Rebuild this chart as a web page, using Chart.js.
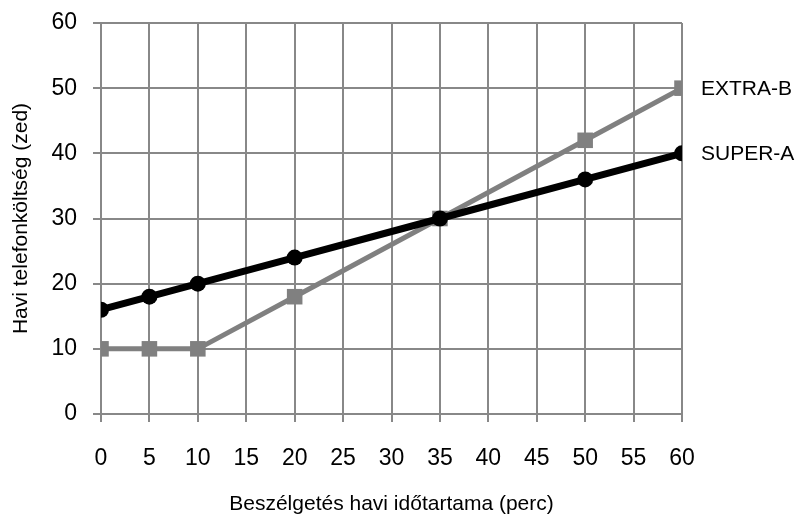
<!DOCTYPE html>
<html>
<head>
<meta charset="utf-8">
<script src="https://cdn.jsdelivr.net/npm/chart.js@4"></script>
<style>
  html, body { margin: 0; padding: 0; background: #fff; }
  #wrap { width: 798px; height: 519px; }
</style>
</head>
<body>
<div id="wrap"><canvas id="chart" width="798" height="519"></canvas></div>
<script>
// percek (x) és havi költség (y)
const minutes = [0, 5, 10, 20, 35, 50, 60];
const superA = [16, 18, 20, 24, 30, 36, 40];
const extraB = [10, 10, 10, 18, 30, 42, 50];
const seriesNames = ['SUPER-A', 'EXTRA-B'];
const xTitle = 'Beszélgetés havi időtartama (perc)';
const yTitle = 'Havi telefonköltség (zed)';

const FONT = "'Liberation Sans', Arial, sans-serif";

function toPoints(vals) {
  return minutes.map(function(m, i){ return {x: m, y: vals[i]}; });
}

// sorozat nevek a vonalak végén
const endLabels = {
  id: 'endLabels',
  afterDatasetsDraw(chart) {
    const ctx = chart.ctx;
    ctx.save();
    ctx.font = '21px ' + FONT;
    ctx.fillStyle = '#000';
    ctx.textBaseline = 'middle';
    chart.data.datasets.forEach(function(ds, i){
      const meta = chart.getDatasetMeta(i);
      const last = meta.data[meta.data.length - 1];
      ctx.fillText(ds.label, last.x + 19, last.y + 1);
    });
    ctx.restore();
  }
};

new Chart(document.getElementById('chart'), {
  type: 'line',
  data: {
    datasets: [
      {
        label: seriesNames[1],
        data: toPoints(extraB),
        borderColor: '#808080',
        backgroundColor: '#808080',
        borderWidth: 5,
        pointStyle: 'rect',
        pointRadius: 11,
        pointBorderWidth: 0,
        order: 1
      },
      {
        label: seriesNames[0],
        data: toPoints(superA),
        borderColor: '#000',
        backgroundColor: '#000',
        borderWidth: 7,
        pointStyle: 'circle',
        pointRadius: 8,
        pointBorderWidth: 0,
        order: 0
      }
    ]
  },
  options: {
    responsive: false,
    animation: false,
    layout: { padding: { top: 23, right: 116, left: 0, bottom: 2 } },
    plugins: {
      legend: { display: false },
      tooltip: { enabled: false }
    },
    scales: {
      x: {
        type: 'linear',
        min: 0, max: 60,
        ticks: { stepSize: 5, color: '#000', padding: 23, font: { family: FONT, size: 23 } },
        grid: { color: '#888', lineWidth: 2, tickLength: 8 },
        border: { color: '#888', width: 2 },
        title: { display: true, text: xTitle, color: '#000', padding: { top: 4, bottom: 0 }, font: { family: FONT, size: 21 } },
        afterFit: function(scale) {
          scale.height = 519 - 2 - 414;
          scale.paddingLeft = 0;
          scale.paddingRight = 0;
        }
      },
      y: {
        min: 0, max: 60,
        ticks: { stepSize: 10, color: '#000', padding: 16, font: { family: FONT, size: 23 } },
        grid: { color: '#888', lineWidth: 2, tickLength: 8 },
        border: { color: '#888', width: 2 },
        title: { display: true, text: yTitle, color: '#000', padding: { top: 9, bottom: 0 }, font: { family: FONT, size: 21 } },
        afterFit: function(scale) {
          scale.width = 101;
          scale.paddingTop = 0;
          scale.paddingBottom = 0;
        }
      }
    }
  },
  plugins: [endLabels]
});
</script>
</body>
</html>
